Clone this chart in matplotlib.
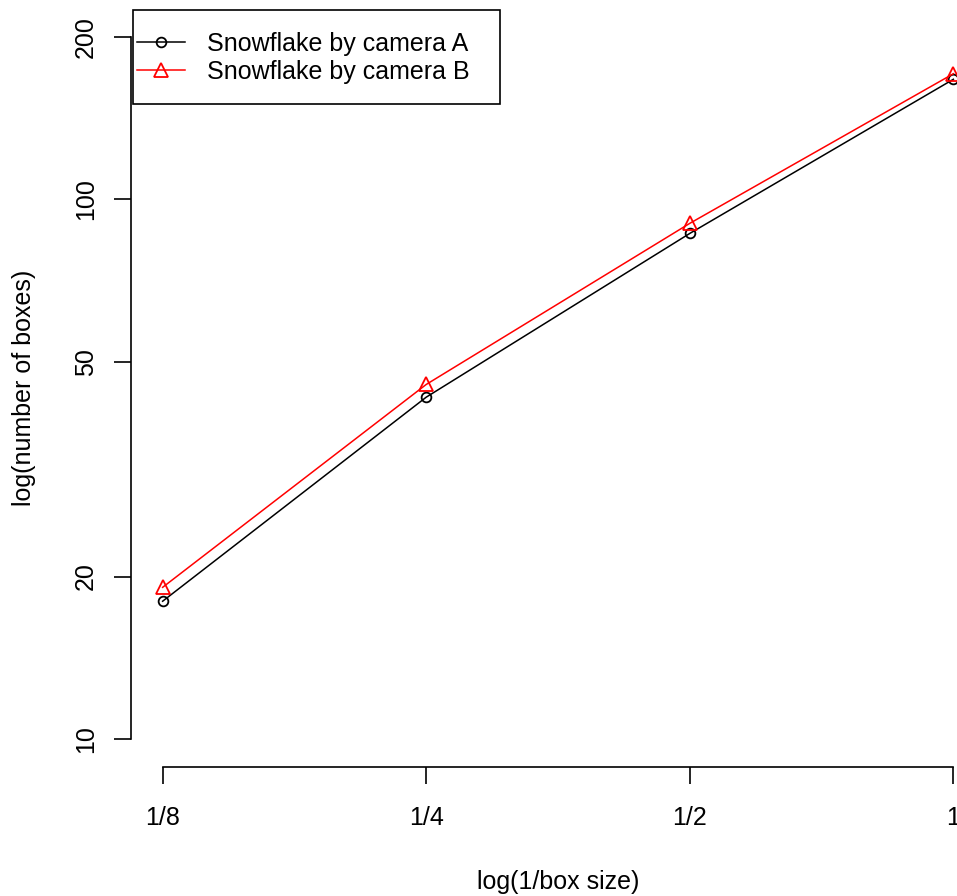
import numpy as np
import matplotlib
matplotlib.use("Agg")
import matplotlib.pyplot as plt
from matplotlib.patches import Rectangle

plt.rcParams['font.family'] = ['Liberation Sans', 'DejaVu Sans']

# Datos
box_frac = [1/8, 1/4, 1/2, 1]
x_labels = ["1/8", "1/4", "1/2", "1"]
camera_a = [18.0, 43.0, 86.5, 167]
camera_b = [19.1, 45.4, 90.3, 171]
y_ticks = [10, 20, 50, 100, 200]

W, H = 957, 896
fig = plt.figure(figsize=(W / 100, H / 100), dpi=100)
# el area de trazado se sale por la derecha, como en la imagen original recortada
ax = fig.add_axes([131/W, 129/H, 854/W, 758/H])

ax.plot(box_frac, camera_a, color='black', linewidth=1.1, marker='o', markersize=7,
        markerfacecolor='none', markeredgewidth=1.3, label="Snowflake by camera A")
ax.plot(box_frac, camera_b, color='red', linewidth=1.1, marker='^', markersize=10,
        markerfacecolor='none', markeredgewidth=1.3, label="Snowflake by camera B")

ax.set_xscale('log', base=2)
ax.set_yscale('log')
ax.set_xlim(2 ** -3.12, 2 ** 0.12)
ax.set_ylim(10 ** 0.948, 10 ** 2.353)

ax.set_xticks(box_frac)
ax.set_xticklabels(x_labels)
ax.set_yticks(y_ticks)
ax.set_yticklabels([str(v) for v in y_ticks], rotation=90, va='center')
ax.minorticks_off()

# estilo R: ejes solo entre el primer y ultimo tick
for s in ['top', 'right']:
    ax.spines[s].set_visible(False)
ax.spines['left'].set_bounds(10, 200)
ax.spines['bottom'].set_bounds(1/8, 1)
for s in ['left', 'bottom']:
    ax.spines[s].set_linewidth(1.2)
ax.tick_params(axis='both', length=12, width=1.2, labelsize=18)
ax.tick_params(axis='x', pad=16)
ax.tick_params(axis='y', pad=12)

ax.set_xlabel("log(1/box size)", fontsize=18, labelpad=29)
ax.set_ylabel("log(number of boxes)", fontsize=18, labelpad=27)

# leyenda sin marco; la caja se dibuja aparte como en R
leg = ax.legend(loc='upper left', bbox_to_anchor=(137/W, 1 - 32/H),
                bbox_transform=fig.transFigure, fontsize=18, frameon=False,
                borderpad=0, labelspacing=0.15, handlelength=1.9,
                handletextpad=0.9, borderaxespad=0)
fig.patches.append(Rectangle((133/W, 1 - 104/H), (500 - 133)/W, 94/H,
                             transform=fig.transFigure, fill=False,
                             edgecolor='black', linewidth=1.2))

plt.savefig("out.png", dpi=100)
